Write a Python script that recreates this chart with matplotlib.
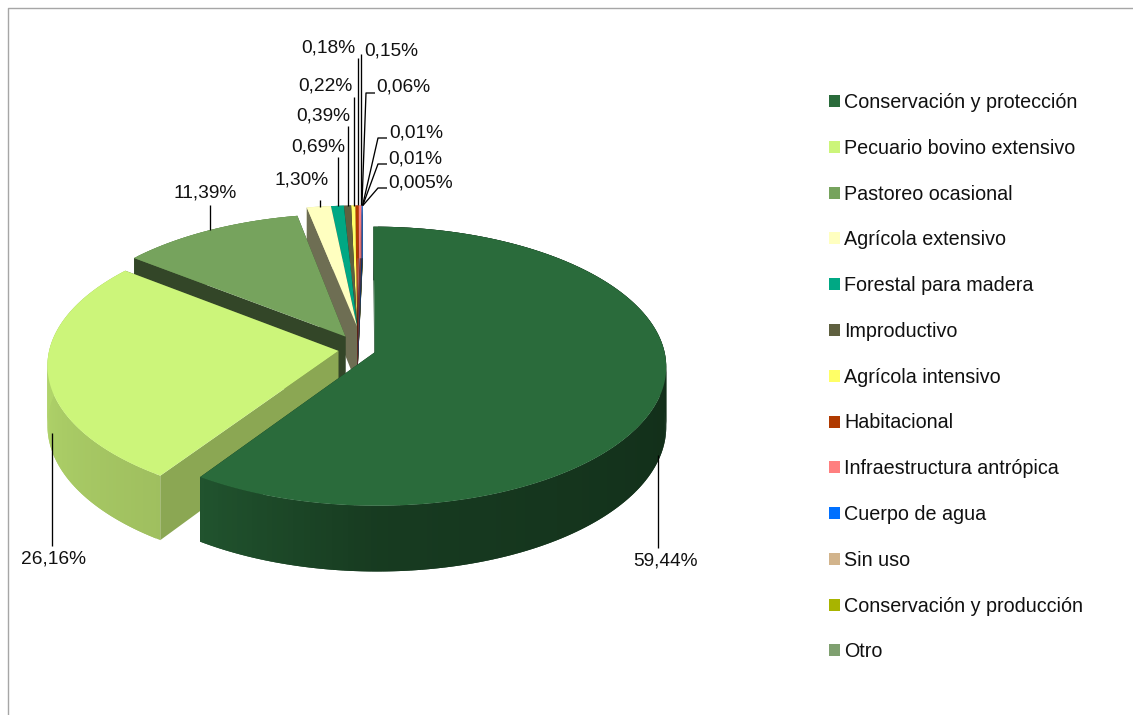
"""
Exploded 3D style pie of land use shares, built from plain polygons.
"""

import numpy as np
import matplotlib
matplotlib.use("Agg")
import matplotlib.pyplot as plt
from matplotlib.patches import Polygon, Patch

plt.rcParams['font.family'] = ['Liberation Sans', 'DejaVu Sans']

categories = ["Conservación y protección", "Pecuario bovino extensivo", "Pastoreo ocasional",
              "Agrícola extensivo", "Forestal para madera", "Improductivo", "Agrícola intensivo",
              "Habitacional", "Infraestructura antrópica", "Cuerpo de agua", "Sin uso",
              "Conservación y producción", "Otro"]
values = [59.44, 26.16, 11.39, 1.30, 0.69, 0.39, 0.22, 0.18, 0.15, 0.06, 0.01, 0.01, 0.005]
value_labels = ["59,44%", "26,16%", "11,39%", "1,30%", "0,69%", "0,39%", "0,22%", "0,18%",
                "0,15%", "0,06%", "0,01%", "0,01%", "0,005%"]
colors = ["#2a6b3b", "#ccf57a", "#76a35d", "#ffffc0", "#00a884", "#5f6040", "#ffff66",
          "#b03a00", "#ff7f7f", "#0070ff", "#d2b48c", "#a8b400", "#7fa070"]

# how far each slice is pulled out, and along which compass angle (None = its own middle)
explode = [0.065, 0.065, 0.103] + [0.17] * 10
explode_dir = [None, None, 337.0] + [360.0] * 10
# the thin slices look a bit wider and leaning in the original
u_scale = [1.0, 1.0, 1.0] + [1.15] * 10
u_skew = [0.0, 0.0, 0.0] + [0.023] * 10

# pie projection, in pixels
CX, CY = 357.0, 349.5
A, B = 289.0, 137.6
K = 0.1007
DEPTH = 59.0


def project(u, v, z=0.0):
    w = 1.0 / (1.0 + K * v)
    return CX + u * A * w, CY - v * B * w + z * w


def rim_shade(theta):
    return np.interp(theta, [90, 180, 214, 270, 310], [0.42, 0.55, 0.78, 0.87, 0.87])


def darker(color, f):
    return tuple(c * f for c in matplotlib.colors.to_rgb(color))


def add_poly(ax, pts, color):
    ax.add_patch(Polygon(pts, closed=True, facecolor=color, edgecolor='none', linewidth=0))


def draw_slice(ax, i, start, end):
    mid = (start + end) / 2.0
    direction = np.radians(mid if explode_dir[i] is None else explode_dir[i])
    u0 = explode[i] * np.sin(direction)
    v0 = explode[i] * np.cos(direction)
    th = np.arange(start, end, 1.0)
    th = np.append(th, end)
    us = u0 + u_scale[i] * np.sin(np.radians(th)) + u_skew[i] * np.cos(np.radians(th))
    vs = v0 + np.cos(np.radians(th))

    # far cut face goes first, it is hidden by everything else of the slice
    add_poly(ax, [project(u0, v0), project(us[-1], vs[-1]), project(us[-1], vs[-1], DEPTH),
                  project(u0, v0, DEPTH)], darker(colors[i], 0.43))

    # outer wall, strips overlap the next one so no seams show
    n = len(th)
    for j in range(n - 1):
        k = min(j + 2, n - 1)
        f = rim_shade((th[j] + th[j + 1]) / 2.0)
        add_poly(ax, [project(us[s], vs[s]) for s in range(j, k + 1)]
                 + [project(us[s], vs[s], DEPTH) for s in range(k, j - 1, -1)],
                 darker(colors[i], f))

    # near cut face
    f = 0.68 if start < 250 else 0.43
    add_poly(ax, [project(u0, v0), project(us[0], vs[0]), project(us[0], vs[0], DEPTH),
                  project(u0, v0, DEPTH)], darker(colors[i], f))

    # top face
    top = [project(u0, v0)] + [project(a, b) for a, b in zip(us, vs)]
    add_poly(ax, top, colors[i])

    um = u0 + u_scale[i] * np.sin(np.radians(mid)) + u_skew[i] * np.cos(np.radians(mid))
    vm = v0 + np.cos(np.radians(mid))
    return project(um, vm), project(um, vm, DEPTH)


fig = plt.figure(figsize=(11.33, 7.15), dpi=100)
ax = fig.add_axes([0, 0, 1, 1])
ax.set_xlim(0, 1133)
ax.set_ylim(715, 0)
ax.axis('off')

# chart frame, only left and top are inside the picture
ax.plot([8, 8, 1133], [715, 7.5, 7.5], color="#a6a6a6", lw=1.0)

angles = np.cumsum([0.0] + values) / sum(values) * 360.0

# painter's order: back slices first, small ones right to left
order = list(range(12, 1, -1)) + [1, 0]
top_mid = {}
low_mid = {}
for i in order:
    top_mid[i], low_mid[i] = draw_slice(ax, i, angles[i], angles[i + 1])

# leader lines start on the slice and end next to the label
label_pos = [(665, 561), (53, 559), (205, 193), (302, 180), (318, 147), (323, 116), (325, 86),
             (328, 48), (391, 51), (403, 87), (416, 133), (415, 159), (421, 183)]
leader_mid = [None, None, None, None, None, None, None, None, None,
              (366, 93), (378, 138), (378, 164), (378, 188)]
leader_end = [(658, 548), (52, 546), (210, 205), (320, 200), (338, 157), (348, 126), (354, 97),
              (358, 58), (361, 54), (375, 93), (387, 138), (387, 164), (387, 188)]

for i in range(len(values)):
    start = low_mid[i] if i < 2 else top_mid[i]
    end = leader_end[i]
    xs = [end[0] if leader_mid[i] is None else start[0]]
    ys = [start[1]]
    if leader_mid[i] is not None:
        xs.append(leader_mid[i][0])
        ys.append(leader_mid[i][1])
    xs.append(end[0])
    ys.append(end[1])
    ax.plot(xs, ys, color="black", lw=0.95, solid_capstyle='butt')
    ax.text(label_pos[i][0], label_pos[i][1], value_labels[i], ha='center', va='center',
            fontsize=13.8, color="#111111")

handles = [Patch(facecolor=c, edgecolor='none', label=n) for c, n in zip(colors, categories)]
ax.legend(handles=handles, loc='upper left', bbox_to_anchor=(829, 93), bbox_transform=ax.transData,
          frameon=False, fontsize=14.2, borderpad=0, borderaxespad=0, handlelength=0.56,
          handleheight=0.56, handletextpad=0.2, labelspacing=1.358, labelcolor="#111111")

fig.savefig("out.png", dpi=100)
